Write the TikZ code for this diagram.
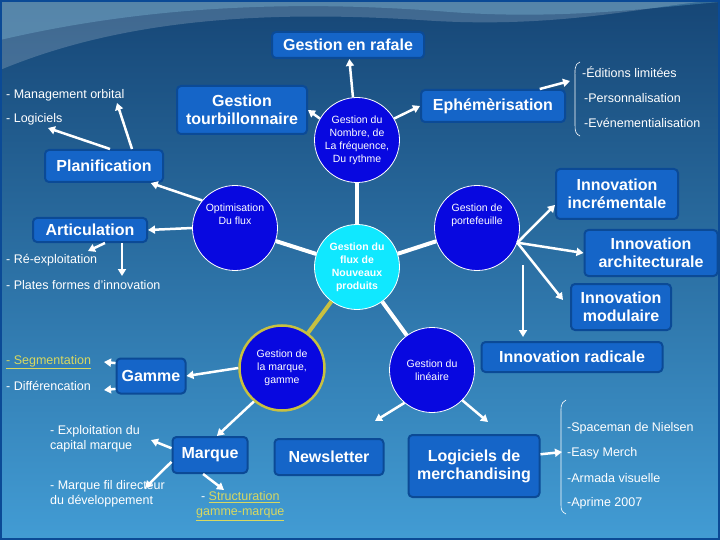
\documentclass[tikz,border=0pt]{standalone}
\usepackage{fontspec}
\setmainfont{Liberation Sans}
\usetikzlibrary{arrows.meta,decorations.pathreplacing}
\definecolor{boxfill}{HTML}{1565C8}
\definecolor{boxline}{HTML}{0B4A96}
\definecolor{circ}{HTML}{0808E0}
\definecolor{cyanc}{HTML}{10E8FF}
\definecolor{ylw}{HTML}{D8D860}
\definecolor{olive}{HTML}{C8C040}
\begin{document}
\begin{tikzpicture}[x=1pt,y=-1pt,
  bx/.style={draw=boxline,line width=2pt,fill=boxfill,rounded corners=4pt,text=white,font=\bfseries\fontsize{16}{18}\selectfont,align=center,inner sep=2pt},
  cc/.style={circle,draw=white,line width=0.8pt,fill=circ,minimum size=85pt,text=white,font=\fontsize{10.5}{13}\selectfont,align=center,inner sep=0pt},
  lst/.style={text=white,font=\fontsize{12.5}{15}\selectfont,anchor=west,align=left,inner sep=0pt},
  ar/.style={draw=white,line width=2.5pt,-{Triangle[length=7pt,width=8pt]}},
  ln/.style={draw=white,line width=4pt}]
\useasboundingbox (0,0) rectangle (720,540);
\shade[top color={rgb,255:red,22;green,70;blue,118},bottom color={rgb,255:red,66;green,156;blue,212}] (0,0) rectangle (720,540);
\fill[white,opacity=0.18] (0,70) .. controls (120,20) and (260,10) .. (420,20) .. controls (560,30) and (650,5) .. (720,0) -- (0,0) -- cycle;
\fill[cyan!40,opacity=0.25] (0,40) .. controls (150,5) and (300,0) .. (450,12) .. controls (560,20) and (650,8) .. (720,2) -- (720,0) -- (0,0) -- cycle;
\draw[boxline,line width=2pt] (1,1) rectangle (719,539);

% circles
\node[cc] (top) at (357,140) {Gestion du\\Nombre, de\\La fréquence,\\Du rythme};
\node[cc,fill=cyanc,font=\bfseries\fontsize{10.5}{13}\selectfont] (mid) at (357,267) {Gestion du\\flux de\\Nouveaux\\produits};
\node[cc] (opt) at (235,228) {Optimisation\\Du flux\\[14pt]};
\node[cc] (port) at (477,228) {Gestion de\\portefeuille\\[14pt]};
\node[cc,draw=olive,line width=2.5pt] (marc) at (282,368) {Gestion de\\la marque,\\gamme};
\node[cc] (lin) at (432,370) {Gestion du\\linéaire};

% boxes
\node[bx,minimum width=152pt,minimum height=26pt] (raf) at (348,45) {Gestion en rafale};
\node[bx,minimum width=130pt,minimum height=48pt] (tour) at (242,110) {Gestion\\tourbillonnaire};
\node[bx,minimum width=144pt,minimum height=32pt] (eph) at (493,106) {Ephémèrisation};
\node[bx,minimum width=118pt,minimum height=32pt] (plan) at (104,166) {Planification};
\node[bx,minimum width=114pt,minimum height=24pt] (art) at (90,230) {Articulation};
\node[bx,minimum width=122pt,minimum height=50pt] (inc) at (617,194) {Innovation\\incrémentale};
\node[bx,minimum width=133pt,minimum height=46pt] (arch) at (651,253) {Innovation\\architecturale};
\node[bx,minimum width=100pt,minimum height=46pt] (mod) at (621,307) {Innovation\\modulaire};
\node[bx,minimum width=181pt,minimum height=30pt] (rad) at (572,357) {Innovation radicale};
\node[bx,minimum width=69pt,minimum height=35pt] (gam) at (151,376) {Gamme};
\node[bx,minimum width=75pt,minimum height=36pt] (mar) at (210,455) {Marque};
\node[bx,minimum width=109pt,minimum height=36pt] (news) at (329,457) {Newsletter};
\node[bx,minimum width=131pt,minimum height=62pt] (logi) at (474,466) {Logiciels de\\merchandising};

% texts
\node[lst] (mo) at (6,95) {- Management orbital};
\node[lst] (lg) at (6,119) {- Logiciels};
\node[lst] (re) at (6,260) {- Ré-exploitation};
\node[lst] (pf) at (6,285) {- Plates formes d’innovation};
\node[lst,text=ylw] (seg) at (6,362) {\underline{- Segmentation}};
\node[lst] (dif) at (6,386) {- Différencation};
\node[lst] (exp) at (50,439) {- Exploitation du\\capital marque};
\node[lst] (fil) at (50,494) {- Marque fil directeur\\du développement};
\node[lst,align=center] (str) at (196,506) {- \textcolor{ylw}{\underline{Structuration}}\\\textcolor{ylw}{\underline{gamme-marque}}};
\node[lst] (ed) at (582,72) {-Éditions limitées};
\node[lst] (pe) at (584,98) {-Personnalisation};
\node[lst] (ev) at (584,123) {-Evénementialisation};
\node[lst] (sp) at (567,428) {-Spaceman de Nielsen};
\node[lst] (ea) at (567,453) {-Easy Merch};
\node[lst] (am) at (567,478) {-Armada visuelle};
\node[lst] (ap) at (567,503) {-Aprime 2007};
\draw[white,line width=0.6pt] (580,62) .. controls (574,64) and (575,70) .. (575,80) -- (575,125) .. controls (575,132) and (576,134) .. (580,136);
\draw[white,line width=0.6pt] (566,400) .. controls (560,403) and (561,408) .. (561,415) -- (561,505) .. controls (561,510) and (562,512) .. (566,514);
\coordinate (b1) at (570,81);
\coordinate (b2) at (562,452);
\coordinate (pm) at (117,103);
\coordinate (pl) at (48,128);
\coordinate (pr) at (88,251);
\coordinate (pp) at (122,276);
\coordinate (im) at (563,300);
\coordinate (rs) at (523,265);
\coordinate (rr) at (523,337);
\coordinate (gs) at (104,362);
\coordinate (gd) at (104,390);
\coordinate (me) at (151,440);
\coordinate (mf) at (145,488);
\coordinate (ms) at (224,490);
\coordinate (l1) at (375,421);
\coordinate (l2) at (488,422);

% connector lines
\draw[ln] (top) -- (mid);
\draw[ln] (opt) -- (mid);
\draw[ln] (port) -- (mid);
\draw[ln,draw=olive] (mid) -- (marc);
\draw[ln] (mid) -- (lin);
% arrows
\draw[ar] (top) -- (raf);
\draw[ar] (top.150) -- (tour.east);
\draw[ar] (top.30) -- (eph.west);
\draw[ar] (eph.20) -- (b1);
\draw[ar] (opt.140) -- (plan.-20);
\draw[ar] ([xshift=28pt]plan.north) -- (pm);
\draw[ar] ([xshift=6pt]plan.north) -- (pl);
\draw[ar] (opt.west) -- (art.east);
\draw[ar] ([xshift=15pt]art.south) -- (pr);
\draw[ar] ([xshift=32pt]art.south) -- (pp);
\draw[ar] (port.-20) -- (inc.-170);
\draw[ar] (port.-20) -- (arch.west);
\draw[ar] (port.-20) -- (im);
\draw[ar] (rs) -- (rr);
\draw[ar] (marc.west) -- (gam.east);
\draw[ar] (gam.160) -- (gs);
\draw[ar] (gam.-160) -- (gd);
\draw[ar] (marc.-130) -- (mar.70);
\draw[ar] (mar.170) -- (me);
\draw[ar] (mar.-170) -- (mf);
\draw[ar] (mar.-110) -- (ms);
\draw[ar] (lin.-130) -- (l1);
\draw[ar] (lin.-45) -- (l2);
\draw[ar] (logi.10) -- (b2);
\end{tikzpicture}
\end{document}
